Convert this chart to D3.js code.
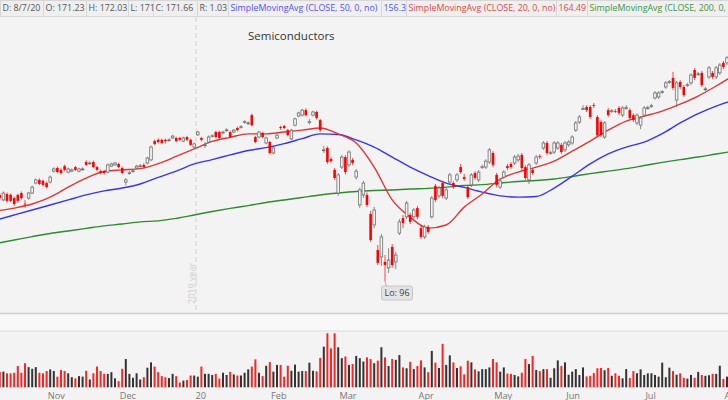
<!DOCTYPE html>
<html>
<head>
<meta charset="utf-8">
<script src="https://cdn.jsdelivr.net/npm/d3@7"></script>
<style>
  html, body { margin: 0; padding: 0; background: #f3f3f3; }
  svg { display: block; font-family: "Open Sans", sans-serif; }
</style>
</head>
<body>
<svg id="chart" width="728" height="400"></svg>
<script>
// one row per trading day from Oct 11 2019: [open, high, low, close]
const candles = [
  [122.2,123.8,121.6,123.2],[123.5,124.0,121.9,122.5],[121.9,124.6,121.5,124.1],[123.8,124.3,121.0,121.6],[123.5,124.0,121.2,121.6],
  [122.5,123.0,119.9,120.6],[123.5,123.9,121.0,121.6],[124.1,124.6,122.0,122.5],[120.7,121.9,119.4,120.6],[122.5,124.5,122.0,124.1],
  [124.1,126.5,123.8,126.0],[127.3,128.8,126.9,128.3],[128.3,128.8,126.6,127.0],[128.0,128.4,126.2,126.7],[127.3,127.8,125.6,126.0],
  [127.6,129.7,127.2,129.2],[131.1,132.3,130.7,131.8],[132.1,132.6,130.4,130.8],[131.5,132.0,130.0,130.5],[132.7,133.2,131.1,131.5],
  [130.8,132.2,130.4,131.8],[131.1,132.0,130.8,131.5],[132.4,132.8,131.1,131.5],[131.1,132.2,130.7,131.8],[131.7,132.3,131.2,131.8],
  [134.0,134.6,132.7,133.1],[133.6,134.3,133.2,133.7],[134.0,134.5,132.0,132.4],[132.4,132.8,131.0,131.5],[131.1,131.6,130.1,130.5],
  [131.1,131.5,130.0,130.5],[130.8,133.5,130.4,133.1],[132.7,133.8,132.4,133.4],[133.1,134.1,132.8,133.7],[133.4,133.8,132.0,132.4],
  [132.1,132.6,130.1,130.5],[127.6,128.9,126.6,128.3],[130.5,131.2,129.9,130.6],[131.1,131.8,130.6,131.2],[132.1,133.1,131.8,132.7],
  [132.7,133.4,132.2,132.8],[133.1,133.6,132.0,132.4],[133.7,135.7,133.3,135.3],[134.7,139.3,134.3,138.8],[140.7,141.2,139.4,139.8],
  [141.1,141.6,140.0,140.4],[141.1,141.5,139.7,140.1],[141.1,141.5,139.9,140.7],[141.0,141.6,140.5,141.1],[141.7,142.7,141.4,142.3],
  [141.7,142.1,140.3,140.7],[141.7,142.1,140.7,141.1],[140.7,142.1,140.4,141.7],[142.0,142.4,140.7,141.1],[141.1,141.5,139.1,139.5],
  [138.8,140.2,138.3,139.8],[142.7,144.0,142.3,143.6],[141.7,142.1,140.6,141.1],[139.4,140.4,138.5,139.5],[140.4,142.5,140.0,142.0],
  [142.3,142.9,141.8,142.4],[143.6,144.0,141.6,142.0],[143.6,144.0,141.3,141.7],[143.3,144.0,142.9,143.6],[144.2,144.8,143.7,144.3],
  [143.6,144.0,141.6,142.0],[143.6,144.6,143.3,144.2],[144.9,145.3,143.8,144.2],[145.2,145.8,144.7,145.3],[146.8,147.4,146.3,146.9],
  [146.4,147.0,145.9,146.5],[149.0,149.5,145.4,145.8],[142.0,142.4,140.0,140.4],[142.0,144.0,141.6,143.6],[143.3,143.7,141.6,142.0],
  [140.1,142.1,139.7,141.7],[140.4,140.8,136.4,136.9],[136.9,139.0,136.5,138.5],[141.7,143.0,141.3,142.6],[145.2,145.6,144.3,144.9],
  [145.5,145.9,144.5,144.9],[144.2,144.6,142.2,142.6],[141.4,144.6,141.0,144.2],[145.8,148.2,145.4,147.8],[148.7,150.1,148.3,149.7],
  [149.0,151.0,148.6,150.6],[150.6,151.2,148.6,149.0],[146.8,147.8,146.0,146.9],[149.0,150.4,148.6,150.0],[150.0,150.4,147.6,148.1],
  [147.4,147.8,143.6,144.2],[137.8,139.1,136.9,137.9],[138.5,139.0,133.4,134.0],[135.0,135.6,133.8,134.3],[131.5,132.1,128.3,128.9],
  [124.1,130.5,123.2,129.9],[132.4,136.3,131.8,135.6],[135.6,136.2,130.0,130.8],[133.1,137.8,132.5,137.2],[134.7,135.3,133.0,133.7],
  [129.2,131.8,128.4,131.1],[120.3,125.8,119.3,125.1],[123.5,128.0,122.5,127.3],[123.5,124.3,119.6,120.3],[117.4,118.4,108.5,109.1],
  [113.9,119.7,112.9,118.7],[105.9,107.5,101.1,101.8],[103.7,111.0,100.8,110.1],[102.1,104.3,96.0,101.1],[100.2,106.5,98.6,102.7],
  [106.9,107.8,100.2,101.1],[102.1,105.3,99.8,104.3],[111.3,115.8,110.7,114.9],[116.1,117.1,112.9,114.5],[116.5,121.6,115.8,120.9],
  [117.1,117.8,114.2,114.9],[116.5,119.3,115.8,118.7],[119.3,120.0,115.8,116.5],[112.9,113.9,109.4,110.1],[110.1,114.0,109.4,113.3],
  [113.3,113.9,111.0,111.7],[116.5,123.2,116.0,122.5],[126.4,127.0,121.2,121.9],[123.2,126.4,122.5,125.7],[127.3,128.0,122.5,123.2],
  [122.5,125.8,121.9,125.1],[127.6,130.5,127.0,129.9],[127.3,127.9,125.4,126.0],[128.3,130.5,127.6,129.9],[132.4,133.4,130.2,130.8],
  [129.2,130.2,128.0,128.6],[126.0,126.7,122.2,122.8],[126.7,130.5,126.0,129.9],[130.5,131.1,128.3,128.9],[128.3,131.4,127.6,130.8],
  [132.4,133.2,131.8,132.5],[132.4,134.9,131.8,134.3],[134.0,138.5,133.4,137.9],[136.9,137.5,132.4,133.1],[129.9,130.5,126.0,126.7],
  [126.0,128.6,125.4,128.0],[129.2,131.4,128.6,130.8],[132.7,133.4,131.4,132.1],[133.4,134.0,131.8,132.4],[133.7,136.3,133.1,135.6],
  [134.7,136.6,134.0,135.9],[136.3,136.9,131.4,132.1],[132.4,133.0,128.3,128.9],[128.3,133.7,127.0,133.1],[131.5,132.1,129.9,130.5],
  [133.7,136.3,133.1,135.6],[135.9,136.5,135.0,135.6],[138.5,140.7,137.9,140.1],[140.1,140.7,136.3,136.9],[136.9,137.6,136.3,137.0],
  [137.2,140.7,136.6,140.1],[138.5,140.7,137.9,140.1],[139.5,140.1,136.6,137.2],[137.9,140.7,137.2,140.1],[139.5,141.0,138.9,140.4],
  [140.1,142.6,139.5,142.0],[144.2,147.1,143.6,146.5],[146.8,149.0,146.2,148.4],[151.0,152.2,150.8,151.1],[151.6,152.2,150.0,150.6],
  [151.6,152.2,147.8,148.4],[152.2,152.9,151.3,151.9],[148.4,149.0,142.0,142.6],[146.8,147.4,142.0,142.6],[142.0,147.1,141.4,146.5],
  [150.6,151.3,148.4,149.0],[150.3,150.9,149.7,150.4],[150.3,150.9,149.7,150.2],[151.3,151.9,149.0,149.7],[149.0,151.9,148.4,151.3],
  [151.3,152.2,150.7,151.4],[150.6,151.2,147.4,148.1],[149.0,149.6,146.8,147.4],[146.5,149.6,145.8,149.0],[145.8,148.7,144.5,148.1],
  [149.0,151.9,148.4,151.3],[151.3,152.0,150.7,151.4],[151.9,152.6,151.3,152.0],[154.5,156.7,153.9,156.1],[154.8,156.7,154.2,156.1],
  [156.4,157.0,155.8,156.5],[158.0,159.9,157.4,159.3],[159.6,160.2,159.0,159.7],[160.9,162.8,157.0,157.7],[153.8,159.9,151.6,159.3],
  [159.6,160.2,157.4,158.0],[158.0,158.6,154.8,155.4],[158.6,159.3,158.0,158.7],[159.3,162.4,158.6,161.8],[163.4,164.0,160.2,160.9],
  [162.1,162.8,161.5,162.2],[162.5,163.1,158.0,158.6],[157.3,158.0,156.7,157.4],[161.2,164.7,160.5,164.1],[162.5,163.1,160.5,161.2],
  [161.2,164.7,160.5,164.1],[162.5,165.6,161.8,165.0],[165.7,166.3,163.7,164.4],[165.7,167.9,165.0,167.3],[167.5,169.2,167.0,168.8],
  [168.9,170.5,168.2,170.1],[170.0,171.0,169.4,170.6],[171.23,172.03,171.0,171.66]
];

// daily volume, millions
const volume = [
  5.0,5.5,5.6,5.0,5.0,5.2,7.6,5.2,8.6,7.2, 6.6,7.2,5.2,5.0,5.8,6.4,5.8,3.8,6.2,5.8,
  5.0,3.6,3.2,4.0,3.8,5.9,2.8,5.0,7.4,5.8, 4.8,4.8,5.4,3.2,2.2,6.6,10.1,4.8,3.4,5.0,
  2.8,3.6,7.0,8.9,7.4,5.4,4.0,3.6,3.3,4.8, 4.0,1.7,2.4,2.6,4.2,4.2,3.8,7.4,4.8,4.8,
  4.4,4.8,3.1,5.2,4.4,5.5,4.6,4.2,4.2,5.2, 6.4,7.4,10.0,5.2,4.0,7.7,9.0,5.6,8.0,8.0,
  3.8,7.7,5.9,8.1,5.6,5.8,5.8,8.8,5.9,5.7, 10.5,14.5,19.3,13.9,19.3,14.3,10.4,11.0,8.0,8.3,
  11.2,10.4,9.2,10.7,10.1,8.6,9.5,14.3,10.7,7.6, 10.1,9.8,11.5,7.1,6.8,9.1,6.5,7.6,9.6,7.1,
  5.4,13.0,8.8,6.9,15.5,8.0,11.4,8.9,6.9,7.5, 4.6,9.5,8.9,6.4,5.7,6.5,6.5,7.1,10.1,8.9,
  5.6,7.1,4.9,4.8,4.4,3.9,5.2,10.1,8.3,11.2, 6.2,5.8,6.5,6.5,3.4,6.8,9.6,7.6,8.9,4.5,
  5.6,6.5,4.4,7.1,3.9,4.1,5.1,6.8,6.9,6.1, 6.9,4.1,5.0,4.1,3.2,6.5,3.3,5.8,5.0,6.4,
  4.4,5.0,5.0,4.4,3.8,8.8,3.6,7.0,5.8,4.5, 5.0,3.4,3.1,4.4,3.4,5.5,4.4,4.1,4.3,4.8,
  4.8,7.7,3.0,3.8,4.2,4.6,4.0,3.9
];

// moving averages, one value every 5 trading days (index 0, 5, 10, ...)
const maStep = 5;
const sma20 = [118.4,119.3,120.6,122.8,126.0,128.9,131.0,131.5,131.9,133.5,135.8,138.2,140.6,141.9,143.0,143.0,143.6,144.2,144.9,143.0,140.1,
  132.4,121.9,116.4,112.9,113.9,119.6,123.8,128.6,130.8,132.4,134.3,137.5,140.7,144.2,147.1,148.7,150.3,152.5,155.1,158.3,161.8];
const sma50 = [115.5,117.1,118.7,120.3,121.9,123.5,124.8,125.7,127.0,129.1,131.1,133.4,134.8,136.3,137.7,138.6,139.9,141.5,143.0,142.8,141.1,
  138.8,135.6,132.4,129.7,127.3,125.9,124.4,123.2,122.8,123.0,125.7,129.5,133.4,136.6,138.8,140.4,143.1,146.5,149.5,151.9,153.8];
const sma200 = [108.0,109.1,110.2,111.2,112.0,112.8,113.6,114.2,114.9,115.2,116.0,117.1,118.2,119.2,120.1,121.1,121.9,122.7,123.5,124.1,124.6,
  124.9,125.1,125.4,125.6,126.0,126.5,126.8,127.3,127.8,128.1,128.6,129.4,130.3,131.1,131.9,132.9,133.9,134.8,135.6,136.6,137.5];
const smaLast = [156.3, 164.49]; // SMA50, SMA20 on the last bar

// first trading day of each month, as an index into candles
const monthIdx = [15, 35, 56, 77, 96, 118, 139, 159, 181, 203];
const monthLabels = ["Nov", "Dec", "20", "Feb", "Mar", "Apr", "May", "Jun", "Jul", "Aug"];
const yearBreakIdx = 55.5;
const lastDate = "8/7/20";

const W = 728, H = 400;
const svg = d3.select("#chart");
svg.append("rect").attr("width", W).attr("height", H).attr("fill", "#f3f3f3");

const x = d3.scaleLinear().domain([0, candles.length - 1]).range([-3.8, -3.8 + 3.6 * (candles.length - 1)]);
const y = d3.scaleLinear().domain([86.1, 180.03]).range([312, 18]);
const yv = d3.scaleLinear().domain([0, 20]).range([387.3, 331.3]);

svg.append("clipPath").attr("id", "priceClip")
  .append("rect").attr("x", 0).attr("y", 17).attr("width", W).attr("height", 295);

const price = svg.append("g").attr("clip-path", "url(#priceClip)");

// year separator
const yx = x(yearBreakIdx);
price.append("line")
  .attr("x1", yx).attr("x2", yx).attr("y1", 17).attr("y2", 312)
  .attr("stroke", "#d9d9d9").attr("stroke-width", 1.2).attr("stroke-dasharray", "5,3");
price.append("text")
  .attr("transform", `translate(${yx - 1},304) rotate(-90)`)
  .attr("fill", "#cfcfcf").attr("font-size", 9)
  .text("2019 year");

svg.append("text")
  .attr("x", 248).attr("y", 40)
  .attr("fill", "#333").attr("font-size", 11.5)
  .text("Semiconductors");

// moving averages
const maLine = d3.line()
  .x((d, k) => x(k * maStep))
  .y(d => y(d))
  .curve(d3.curveMonotoneX);

[[sma200, "#2e8b2e"], [sma50, "#3535f2"], [sma20, "#e23434"]].forEach(([vals, col]) => {
  price.append("path")
    .attr("d", maLine(vals))
    .attr("fill", "none")
    .attr("stroke", col)
    .attr("stroke-width", 1.4);
});

// candles
const bw = 2.6;
const cg = price.selectAll(".candle")
  .data(candles)
  .enter()
  .append("g")
  .attr("class", "candle");

cg.append("line")
  .attr("x1", (d, i) => x(i)).attr("x2", (d, i) => x(i))
  .attr("y1", d => y(d[1])).attr("y2", d => y(d[2]))
  .attr("stroke", d => d[3] >= d[0] ? "#6e6e6e" : "#ff1a1a")
  .attr("stroke-width", 0.8);

cg.append("rect")
  .attr("x", (d, i) => x(i) - bw / 2)
  .attr("y", d => y(Math.max(d[0], d[3])))
  .attr("width", bw)
  .attr("height", d => Math.max(0.8, Math.abs(y(d[0]) - y(d[3]))))
  .attr("fill", d => d[3] >= d[0] ? "#f5f5f5" : "#ff0000")
  .attr("stroke", d => d[3] >= d[0] ? "#6e6e6e" : "none")
  .attr("stroke-width", 0.8);

// low marker
const lows = candles.map(d => d[2]);
const loIdx = d3.minIndex(lows);
const lx = x(loIdx);
svg.append("line")
  .attr("x1", lx).attr("x2", lx + 1.5)
  .attr("y1", y(lows[loIdx])).attr("y2", 287)
  .attr("stroke", "#9a9a9a").attr("stroke-width", 0.8);
svg.append("rect")
  .attr("x", lx - 3.5).attr("y", 286).attr("width", 31).attr("height", 14).attr("rx", 2)
  .attr("fill", "#e3e3e3").attr("stroke", "#bcbcbc").attr("stroke-width", 0.8);
svg.append("text")
  .attr("x", lx + 12).attr("y", 296.3)
  .attr("text-anchor", "middle").attr("fill", "#444").attr("font-size", 9)
  .text("Lo: " + lows[loIdx]);

// panel divider
svg.append("rect").attr("x", 0).attr("y", 313).attr("width", W).attr("height", 18).attr("fill", "#f8f8f8");
svg.append("line").attr("x1", 0).attr("x2", W).attr("y1", 313.5).attr("y2", 313.5)
  .attr("stroke", "#cdcdcd").attr("stroke-width", 1.3);
svg.append("line").attr("x1", 0).attr("x2", W).attr("y1", 331).attr("y2", 331)
  .attr("stroke", "#dcdcdc").attr("stroke-width", 1);

// volume
svg.selectAll(".vol")
  .data(volume)
  .enter()
  .append("rect")
  .attr("class", "vol")
  .attr("x", (d, i) => x(i) - 1)
  .attr("y", d => yv(d))
  .attr("width", 2)
  .attr("height", d => yv(0) - yv(d))
  .attr("fill", (d, i) => candles[i][3] < candles[i][0] ? "#ff2222" : "#333");

// month labels (the last one runs off the right edge, as in the original)
svg.selectAll(".month")
  .data(monthIdx)
  .enter()
  .append("text")
  .attr("class", "month")
  .attr("x", d => x(d) - 2.4)
  .attr("y", 398.5)
  .attr("fill", "#777")
  .attr("font-size", 9.2)
  .text((d, k) => monthLabels[k]);

// header strip
const last = candles[candles.length - 1];
const fmt = v => String(+v.toFixed(2));
const cells = [
  [0, 43, "D: " + lastDate, "#555"],
  [43, 86, "O: " + fmt(last[0]), "#555"],
  [86, 128, "H: " + fmt(last[1]), "#555"],
  [128, 153, "L: " + fmt(last[2]), "#555"],
  [153, 197, "C: " + fmt(last[3]), "#555"],
  [197, 228, "R: " + (last[1] - last[2]).toFixed(2), "#555"],
  [228, 381, "SimpleMovingAvg (CLOSE, 50, 0, no)", "#5252ff"],
  [381, 406, String(smaLast[0]), "#5252ff"],
  [406, 556, "SimpleMovingAvg (CLOSE, 20, 0, no)", "#e04848"],
  [556, 587, String(smaLast[1]), "#e04848"],
  [587, 760, "SimpleMovingAvg (CLOSE, 200, 0, no)", "#449444"]
];
const hdr = svg.append("g");
hdr.selectAll("rect")
  .data(cells)
  .enter()
  .append("rect")
  .attr("x", d => d[0] + 0.5).attr("y", 0.5)
  .attr("width", d => d[1] - d[0]).attr("height", 16)
  .attr("fill", "#efefef").attr("stroke", "#d8d8d8").attr("stroke-width", 1);
hdr.selectAll("text")
  .data(cells)
  .enter()
  .append("text")
  .attr("x", d => d[0] + 2.5).attr("y", 10.5)
  .attr("fill", d => d[3]).attr("font-size", 8.85)
  .text(d => d[2]);
</script>
</body>
</html>
